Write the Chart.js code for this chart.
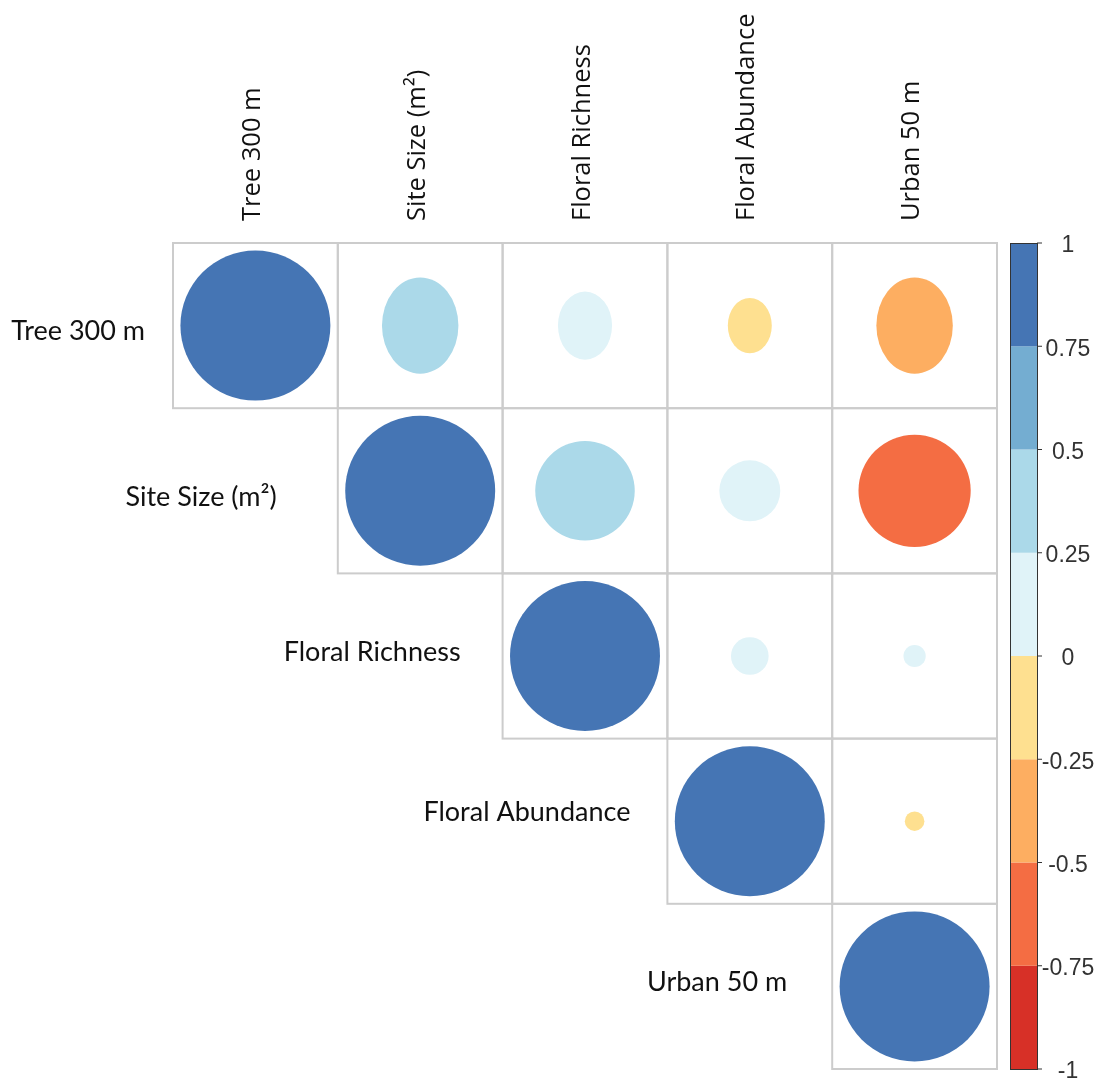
<!DOCTYPE html>
<html>
<head>
<meta charset="utf-8">
<script src="https://cdn.jsdelivr.net/npm/chart.js@4.4.1/dist/chart.umd.min.js"></script>
<style>
  body { margin: 0; background: #fff; }
  #wrap { width: 1103px; height: 1083px; }
</style>
</head>
<body>
<div id="wrap"><canvas id="corrChart"></canvas></div>
<script>
// variables, in matrix order
const variables = ['Tree 300 m', 'Site Size (m\u00B2)', 'Floral Richness', 'Floral Abundance', 'Urban 50 m'];

// upper triangle of the correlation matrix, one array per row (null = lower half)
const rTree300    = [1.00, 0.26, 0.13, -0.086, -0.26];
const rSiteSize   = [null, 1.00, 0.44, 0.165, -0.56];
const rFloralRich = [null, null, 1.00, 0.063, 0.022];
const rFloralAbun = [null, null, null, 1.00, -0.017];
const rUrban50    = [null, null, null, null, 1.00];

// colour key
const colorBreaks = [-1, -0.75, -0.5, -0.25, 0, 0.25, 0.5, 0.75, 1];
const keyTickValues = [1, 0.75, 0.5, 0.25, 0, -0.25, -0.5, -0.75, -1];
const keyTickLabels = ['1', '0.75', '0.5', '0.25', '0', '-0.25', '-0.5', '-0.75', '-1'];

const binColors = ['#D73027', '#F46D43', '#FDAE61', '#FEE090', '#E0F3F8', '#ABD9E9', '#74ADD1', '#4575B4'];

const matrixRows = [rTree300, rSiteSize, rFloralRich, rFloralAbun, rUrban50];

function colorFor(v) {
  const k = Math.min(binColors.length - 1, Math.floor((v + 1) / 0.25));
  return binColors[k];
}

// build circle points; top row off-diagonal kept in its own dataset
const topRowPts = [];
const otherPts = [];
matrixRows.forEach((row, i) => {
  row.forEach((v, j) => {
    if (v === null) return;
    const p = { x: j + 0.5, y: i + 0.5, v: v };
    if (i === 0 && j > 0) topRowPts.push(p); else otherPts.push(p);
  });
});

const TOP_ROW_STRETCH = 1.26;
const rowLabelGap = [28, 61, 42, 37, 45];
const rowLabelDy = [6, 6, -4, -9, -4];

const cellGrid = {
  id: 'cellGrid',
  beforeDatasetsDraw(chart) {
    const { ctx, scales: { x, y } } = chart;
    ctx.save();
    ctx.strokeStyle = '#cccccc';
    ctx.lineWidth = 2;
    matrixRows.forEach((row, i) => {
      row.forEach((v, j) => {
        if (v === null) return;
        const x0 = x.getPixelForValue(j), x1 = x.getPixelForValue(j + 1);
        const y0 = y.getPixelForValue(i), y1 = y.getPixelForValue(i + 1);
        ctx.strokeRect(x0, y0, x1 - x0, y1 - y0);
      });
    });
    ctx.restore();
  },
  beforeDatasetDraw(chart, args) {
    if (args.index !== 0) return;
    const ctx = chart.ctx;
    const cy = chart.scales.y.getPixelForValue(0.5);
    ctx.save();
    ctx.translate(0, cy);
    ctx.scale(1, TOP_ROW_STRETCH);
    ctx.translate(0, -cy);
  },
  afterDatasetDraw(chart, args) {
    if (args.index !== 0) return;
    chart.ctx.restore();
  }
};

const rowLabels = {
  id: 'rowLabels',
  afterDraw(chart) {
    const { ctx, scales: { x, y } } = chart;
    ctx.save();
    ctx.font = '27px Lato';
    ctx.fillStyle = '#111';
    ctx.textAlign = 'right';
    ctx.textBaseline = 'middle';
    variables.forEach((name, i) => {
      ctx.fillText(name, x.getPixelForValue(i) - rowLabelGap[i], y.getPixelForValue(i + 0.5) + rowLabelDy[i]);
    });
    ctx.restore();
  }
};

const colorKey = {
  id: 'colorKey',
  afterDraw(chart) {
    const { ctx, chartArea } = chart;
    const cb = chart.scales.cb;
    const left = chartArea.right + 13, w = 27;
    ctx.save();
    for (let k = 0; k < binColors.length; k++) {
      const top = cb.getPixelForValue(colorBreaks[k + 1]);
      const bot = cb.getPixelForValue(colorBreaks[k]);
      ctx.fillStyle = binColors[k];
      ctx.fillRect(left, top, w, bot - top);
    }
    ctx.strokeStyle = '#333';
    ctx.lineWidth = 1;
    const t = cb.getPixelForValue(1), b = cb.getPixelForValue(-1);
    ctx.strokeRect(left + 0.5, t + 0.5, w, b - t);
    ctx.font = '23px "Liberation Sans", Arial';
    ctx.fillStyle = '#333';
    ctx.textAlign = 'center';
    ctx.textBaseline = 'middle';
    keyTickValues.forEach((v, k) => {
      const py = cb.getPixelForValue(v);
      ctx.beginPath();
      ctx.moveTo(left + w, py);
      ctx.lineTo(left + w + 5, py);
      ctx.stroke();
      ctx.fillText(keyTickLabels[k], left + w + 31, py + 3);
    });
    ctx.restore();
  }
};

// circle radius grows with sqrt(|r|), a full cell-width circle at |r| = 1
const radiusFor = (c) => {
  if (!c.raw) return 0;
  const xs = c.chart.scales.x;
  const cell = xs.getPixelForValue(1) - xs.getPixelForValue(0);
  return Math.sqrt(Math.abs(c.raw.v)) * cell * 0.455;
};
const fillFor = (c) => (c.raw ? colorFor(c.raw.v) : '#fff');

new Chart(document.getElementById('corrChart'), {
  type: 'scatter',
  data: {
    datasets: [
      { data: topRowPts, pointRadius: radiusFor, pointBackgroundColor: fillFor, pointBorderWidth: 0, clip: false },
      { data: otherPts, pointRadius: radiusFor, pointBackgroundColor: fillFor, pointBorderWidth: 0, clip: false }
    ]
  },
  options: {
    responsive: true,
    maintainAspectRatio: false,
    animation: false,
    events: [],
    layout: { padding: { left: 173, right: 106, top: 0, bottom: 14 } },
    plugins: { legend: { display: false }, tooltip: { enabled: false } },
    scales: {
      x: {
        type: 'linear',
        position: 'top',
        min: 0,
        max: 5,
        grid: { display: false, drawTicks: false },
        border: { display: false },
        afterBuildTicks: s => { s.ticks = variables.map((_, i) => ({ value: i + 0.5 })); },
        afterFit: s => { s.height = 243; },
        ticks: {
          autoSkip: false,
          minRotation: 90,
          maxRotation: 90,
          padding: 22,
          labelOffset: 28,
          color: '#111',
          font: { family: '"Open Sans"', size: 25.5 },
          callback: v => variables[Math.floor(v)]
        }
      },
      y: { type: 'linear', min: 0, max: 5, reverse: true, display: false },
      cb: { type: 'linear', position: 'right', min: -1, max: 1, display: false }
    }
  },
  plugins: [cellGrid, rowLabels, colorKey]
});
</script>
</body>
</html>
